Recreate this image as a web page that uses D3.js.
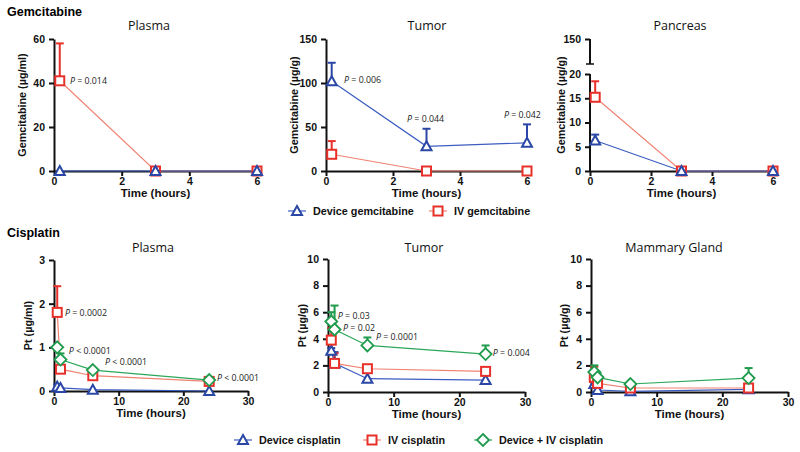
<!DOCTYPE html>
<html><head><meta charset="utf-8">
<script src="https://cdn.jsdelivr.net/npm/d3@7"></script>
<style>
body{margin:0;background:#fff;}
svg{display:block;}
</style></head>
<body>
<svg id="c" width="800" height="452"></svg>
<script>
// ---------------- DATA ----------------
const gemTimes = [0.17, 3, 6];
const gemXTicks = [0, 2, 4, 6];
// Plasma (µg/ml)
const gemPlasmaDevice = [0, 0, 0];
const gemPlasmaDeviceUp = [null, null, null];
const gemPlasmaIV = [41, 0, 0];
const gemPlasmaIVUp = [58, null, null];
// Tumor (µg/g)
const gemTumorDevice = [102, 28, 32];
const gemTumorDeviceUp = [123, 48, 53];
const gemTumorIV = [19, 0, 0];
const gemTumorIVUp = [34, null, null];
// Pancreas (µg/g)
const gemPancDevice = [6.3, 0, 0];
const gemPancDeviceUp = [7.5, null, null];
const gemPancIV = [15.2, 0, 0];
const gemPancIVUp = [18.5, null, null];

const cisTimes = [0.5, 1, 6, 24];
const cisXTicks = [0, 10, 20, 30];
// Plasma (µg/ml)
const cisPlasmaDevice = [0.1, 0.07, 0.03, 0.0];
const cisPlasmaDeviceUp = [0.15, null, null, null];
const cisPlasmaIV = [1.8, 0.5, 0.35, 0.22];
const cisPlasmaIVUp = [2.4, null, null, null];
const cisPlasmaCombo = [1.0, 0.72, 0.48, 0.25];
const cisPlasmaComboUp = [null, 0.86, null, null];
// Tumor (µg/g)
const cisTumorDevice = [3.1, 2.15, 1.0, 0.9];
const cisTumorDeviceUp = [3.3, 3.0, null, null];
const cisTumorIV = [3.9, 2.15, 1.75, 1.55];
const cisTumorIVUp = [4.8, 2.9, null, null];
const cisTumorCombo = [5.3, 4.7, 3.5, 2.85];
const cisTumorComboUp = [6.0, 6.5, 4.1, 3.5];
// Mammary gland (µg/g)
const cisMamDevice = [0.6, 0.15, 0.05, 0.2];
const cisMamDeviceUp = [null, null, null, null];
const cisMamIV = [1.1, 0.65, 0.3, 0.3];
const cisMamIVUp = [1.9, null, null, null];
const cisMamCombo = [1.5, 1.1, 0.6, 1.05];
const cisMamComboUp = [2.0, 1.4, null, 1.8];

// P-value annotations: [time, value, text, relation] in data units
const pGemPlasma = [[0.47, 39.5, "0.014", "="]];
const pGemTumor = [[0.54, 100, "0.006", "="], [2.42, 56, "0.044", "="], [5.31, 60, "0.042", "="]];
const pCisPlasma = [[1.7, 1.72, "0.0002", "="], [2.3, 0.84, "0.0001", "<"], [7.9, 0.60, "0.0001", "<"], [25.2, 0.23, "0.0001", "<"]];
const pCisTumor = [[1.5, 5.5, "0.03", "="], [2.3, 4.6, "0.02", "="], [7.3, 3.9, "0.0001", "="], [25.1, 2.7, "0.004", "="]];

const gemLegend = ["Device gemcitabine", "IV gemcitabine"];
const cisLegend = ["Device cisplatin", "IV cisplatin", "Device + IV cisplatin"];

// ---------------- STYLE ----------------
const COL = {
  device: {stroke: "#2a47a6", line: "#3b5cc0", sym: "triangle"},
  iv: {stroke: "#e8302a", line: "#f08272", sym: "square"},
  combo: {stroke: "#1e9b4c", line: "#2aa85a", sym: "diamond"}
};
const BOLD = "'Liberation Sans', Arial, sans-serif";
const TITLE = "'Open Sans', 'Noto Sans', sans-serif";

const svg = d3.select("#c");

svg.append("text").attr("x", 7).attr("y", 16).attr("font-family", BOLD).attr("font-weight", "bold")
  .attr("font-size", 12.5).text("Gemcitabine");
svg.append("text").attr("x", 7).attr("y", 237).attr("font-family", BOLD).attr("font-weight", "bold")
  .attr("font-size", 12.5).text("Cisplatin");

function marker(g, sym, cx, cy, color) {
  if (sym === "square") {
    g.append("rect").attr("x", cx - 4.5).attr("y", cy - 4.5).attr("width", 9).attr("height", 9)
      .attr("fill", "#fff").attr("stroke", color).attr("stroke-width", 2);
  } else if (sym === "triangle") {
    g.append("path").attr("d", `M${cx},${cy - 5}L${cx + 5},${cy + 4}L${cx - 5},${cy + 4}Z`)
      .attr("fill", "#fff").attr("stroke", color).attr("stroke-width", 2).attr("stroke-linejoin", "miter");
  } else {
    g.append("path").attr("d", `M${cx},${cy - 6}L${cx + 6},${cy}L${cx},${cy + 6}L${cx - 6},${cy}Z`)
      .attr("fill", "#fff").attr("stroke", color).attr("stroke-width", 1.8);
  }
}

function panel(cfg) {
  const g = svg.append("g");
  const x = d3.scaleLinear().domain(cfg.xDomain).range([cfg.x0, cfg.x1]);
  const y = d3.scaleLinear().domain(cfg.yDomain).range(cfg.yRange);
  const yBase = y(0);
  const fmt = d3.format("~g");

  // title
  g.append("text").attr("x", cfg.titleX).attr("y", cfg.titleY).attr("text-anchor", "middle")
    .attr("font-family", TITLE).attr("font-size", 12.5).attr("fill", "#111").text(cfg.title);

  // x axis
  const xa = g.append("g").attr("transform", `translate(0,${yBase})`)
    .call(d3.axisBottom(x).tickValues(cfg.xTicks).tickFormat(fmt).tickSize(5).tickSizeOuter(0));
  xa.select(".domain").attr("stroke", "#111").attr("stroke-width", 2);
  xa.selectAll(".tick line").attr("stroke", "#111").attr("stroke-width", 2);
  xa.selectAll(".tick text").attr("font-family", BOLD).attr("font-weight", "bold").attr("font-size", 10.5)
    .attr("fill", "#111").attr("dy", "0.55em");

  // y axis
  const ya = g.append("g").attr("transform", `translate(${cfg.x0},0)`)
    .call(d3.axisLeft(y).tickValues(cfg.yTicks).tickFormat(fmt).tickSize(5).tickSizeOuter(0));
  ya.selectAll(".tick line").attr("stroke", "#111").attr("stroke-width", 2);
  ya.selectAll(".tick text").attr("font-family", BOLD).attr("font-weight", "bold").attr("font-size", 10.5)
    .attr("fill", "#111").attr("dx", "-1");
  if (cfg.breakAt) {
    ya.select(".domain").remove();
    const [lo, hi] = cfg.breakAt;
    g.append("line").attr("x1", cfg.x0).attr("x2", cfg.x0).attr("y1", y(0) + 1).attr("y2", y(lo))
      .attr("stroke", "#111").attr("stroke-width", 2);
    g.append("line").attr("x1", cfg.x0).attr("x2", cfg.x0).attr("y1", y(hi)).attr("y2", y(cfg.yDomain[cfg.yDomain.length - 1]))
      .attr("stroke", "#111").attr("stroke-width", 2);
    g.append("line").attr("x1", cfg.x0 - 4).attr("x2", cfg.x0 + 4).attr("y1", y(hi)).attr("y2", y(hi))
      .attr("stroke", "#111").attr("stroke-width", 1.5);
  } else {
    ya.select(".domain").attr("stroke", "#111").attr("stroke-width", 2);
  }

  // axis labels
  g.append("text").attr("x", (cfg.x0 + cfg.x1) / 2).attr("y", yBase + 26).attr("text-anchor", "middle")
    .attr("font-family", BOLD).attr("font-weight", "bold").attr("font-size", 11.5).attr("fill", "#111")
    .text("Time (hours)");
  const yMid = (cfg.yRange[0] + cfg.yRange[cfg.yRange.length - 1]) / 2;
  g.append("text").attr("transform", `translate(${cfg.yLabelX},${yMid}) rotate(-90)`)
    .attr("text-anchor", "middle").attr("font-family", BOLD).attr("font-weight", "bold")
    .attr("font-size", 10.8).attr("fill", "#111").text(cfg.yLabel);

  // lines
  cfg.series.forEach(s => {
    const pts = cfg.times.map((t, i) => [x(t), y(s.v[i])]);
    g.append("path").attr("d", d3.line()(pts)).attr("fill", "none")
      .attr("stroke", COL[s.k].line).attr("stroke-width", 1.2);
  });
  // error bars
  cfg.series.forEach(s => {
    cfg.times.forEach((t, i) => {
      const u = s.up[i];
      if (u == null) return;
      const cx = x(t);
      g.append("line").attr("x1", cx).attr("x2", cx).attr("y1", y(s.v[i])).attr("y2", y(u))
        .attr("stroke", COL[s.k].stroke).attr("stroke-width", 2);
      g.append("line").attr("x1", cx - 4).attr("x2", cx + 4).attr("y1", y(u)).attr("y2", y(u))
        .attr("stroke", COL[s.k].stroke).attr("stroke-width", 2);
    });
  });
  // markers
  cfg.series.forEach(s => {
    cfg.times.forEach((t, i) => marker(g, COL[s.k].sym, x(t), y(s.v[i]), COL[s.k].stroke));
  });
  // p-values
  (cfg.pvals || []).forEach(p => {
    const tx = g.append("text").attr("x", x(p[0])).attr("y", y(p[1]))
      .attr("font-family", "'Open Sans', 'Noto Sans', sans-serif").attr("font-size", 8.8).attr("fill", "#222");
    tx.append("tspan").attr("font-style", "italic").text("P");
    tx.append("tspan").text(` ${p[3]} ${p[2]}`);
  });
}

panel({title: "Plasma", titleX: 149, titleY: 30, x0: 54, x1: 257, xDomain: [0, 6], xTicks: gemXTicks,
  yDomain: [0, 60], yRange: [171, 39], yTicks: [0, 20, 40, 60], yLabel: "Gemcitabine (µg/ml)", yLabelX: 26,
  times: gemTimes,
  series: [{k: "iv", v: gemPlasmaIV, up: gemPlasmaIVUp}, {k: "device", v: gemPlasmaDevice, up: gemPlasmaDeviceUp}],
  pvals: pGemPlasma});
panel({title: "Tumor", titleX: 427, titleY: 30, x0: 326, x1: 527, xDomain: [0, 6], xTicks: gemXTicks,
  yDomain: [0, 150], yRange: [171, 39], yTicks: [0, 50, 100, 150], yLabel: "Gemcitabine (µg/g)", yLabelX: 298,
  times: gemTimes,
  series: [{k: "iv", v: gemTumorIV, up: gemTumorIVUp}, {k: "device", v: gemTumorDevice, up: gemTumorDeviceUp}],
  pvals: pGemTumor});
panel({title: "Pancreas", titleX: 680, titleY: 30, x0: 590, x1: 773, xDomain: [0, 6], xTicks: gemXTicks,
  yDomain: [0, 20, 130, 150], yRange: [171, 74, 64, 39], yTicks: [0, 5, 10, 15, 20, 150], breakAt: [20, 130],
  yLabel: "Gemcitabine (µg/g)", yLabelX: 565,
  times: gemTimes,
  series: [{k: "iv", v: gemPancIV, up: gemPancIVUp}, {k: "device", v: gemPancDevice, up: gemPancDeviceUp}]});

panel({title: "Plasma", titleX: 153, titleY: 252, x0: 54, x1: 248, xDomain: [0, 30], xTicks: cisXTicks,
  yDomain: [0, 3], yRange: [391, 260], yTicks: [0, 1, 2, 3], yLabel: "Pt (µg/ml)", yLabelX: 32,
  times: cisTimes,
  series: [{k: "device", v: cisPlasmaDevice, up: cisPlasmaDeviceUp}, {k: "iv", v: cisPlasmaIV, up: cisPlasmaIVUp},
    {k: "combo", v: cisPlasmaCombo, up: cisPlasmaComboUp}],
  pvals: pCisPlasma});
panel({title: "Tumor", titleX: 424, titleY: 252, x0: 328, x1: 525, xDomain: [0, 30], xTicks: cisXTicks,
  yDomain: [0, 10], yRange: [392, 259], yTicks: [0, 2, 4, 6, 8, 10], yLabel: "Pt (µg/g)", yLabelX: 306,
  times: cisTimes,
  series: [{k: "device", v: cisTumorDevice, up: cisTumorDeviceUp}, {k: "iv", v: cisTumorIV, up: cisTumorIVUp},
    {k: "combo", v: cisTumorCombo, up: cisTumorComboUp}],
  pvals: pCisTumor});
panel({title: "Mammary Gland", titleX: 674, titleY: 252, x0: 591, x1: 788, xDomain: [0, 30], xTicks: cisXTicks,
  yDomain: [0, 10], yRange: [392, 259], yTicks: [0, 2, 4, 6, 8, 10], yLabel: "Pt (µg/g)", yLabelX: 568,
  times: cisTimes,
  series: [{k: "device", v: cisMamDevice, up: cisMamDeviceUp}, {k: "iv", v: cisMamIV, up: cisMamIVUp},
    {k: "combo", v: cisMamCombo, up: cisMamComboUp}]});

// legends
function legend(items, keys, xs, yc) {
  items.forEach((name, i) => {
    const k = keys[i], cx = xs[i];
    svg.append("line").attr("x1", cx - 9).attr("x2", cx + 9).attr("y1", yc).attr("y2", yc)
      .attr("stroke", COL[k].line).attr("stroke-width", 1.2);
    marker(svg, COL[k].sym, cx, yc, COL[k].stroke);
    svg.append("text").attr("x", cx + 16).attr("y", yc + 4).attr("font-family", BOLD).attr("font-weight", "bold")
      .attr("font-size", 10.8).attr("fill", "#111").text(name);
  });
}
legend(gemLegend, ["device", "iv"], [297, 438], 211);
legend(cisLegend, ["device", "iv", "combo"], [243, 372, 483], 440);
</script>
</body></html>
